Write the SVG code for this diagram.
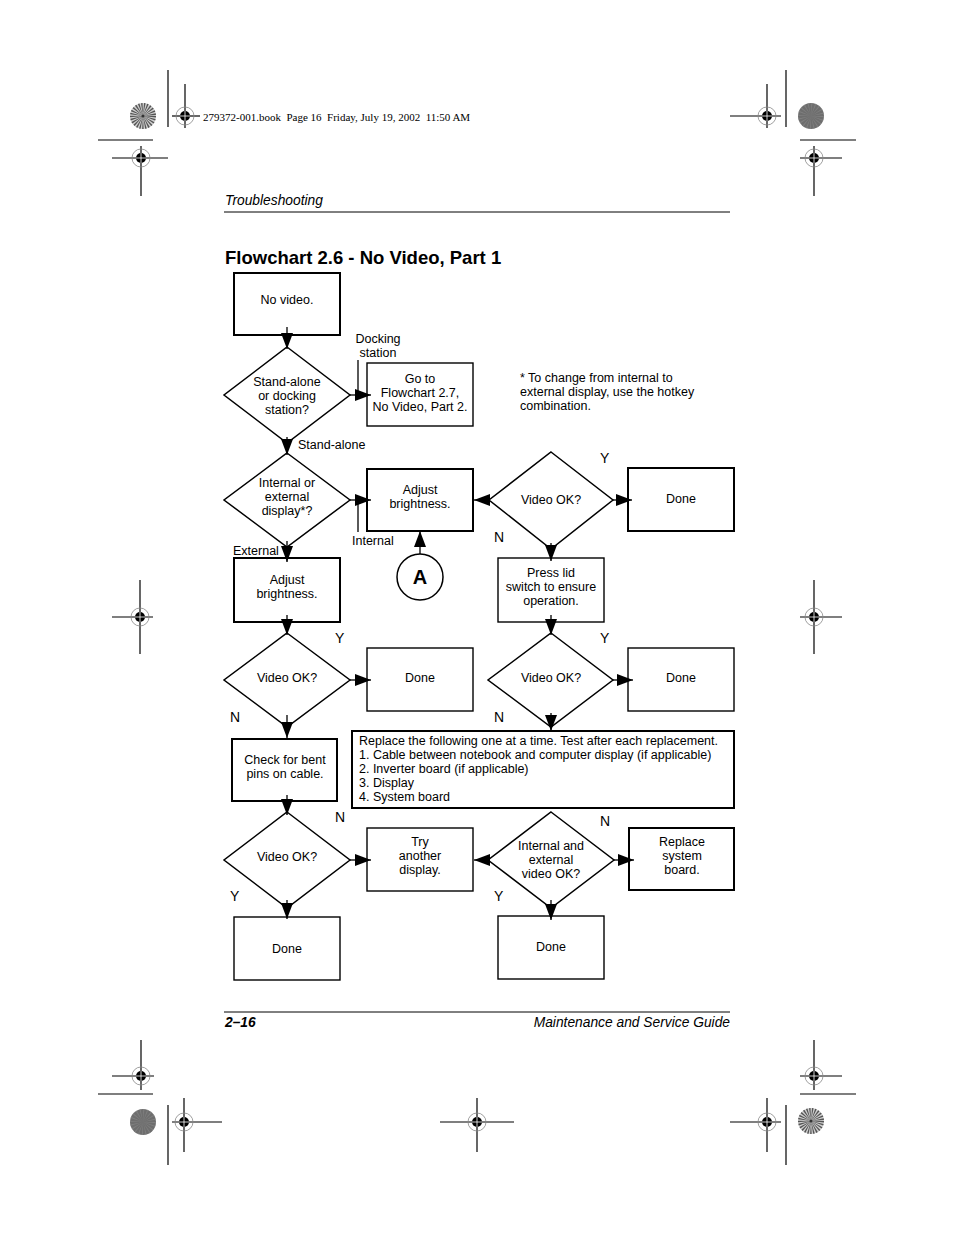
<svg xmlns="http://www.w3.org/2000/svg" xmlns:xlink="http://www.w3.org/1999/xlink" width="954" height="1235" viewBox="0 0 954 1235">
<style>
  .t { font-family: "Liberation Sans", Arial, sans-serif; font-size: 12.5px; fill: #000; }
  .c { text-anchor: middle; }
  .yn { font-family: "Liberation Sans", Arial, sans-serif; font-size: 14px; fill: #000; }
  .box { fill: #fff; stroke: #000; stroke-width: 1.4; }
  .thick { stroke-width: 2; }
  .dia { fill: #fff; stroke: #000; stroke-width: 1.5; }
  .conn { stroke: #000; stroke-width: 1.3; fill: none; }
  .mk { stroke: #000; stroke-width: 1.2; }
  .hdr { font-family: "Liberation Sans", Arial, sans-serif; font-style: italic; font-size: 13.8px; fill: #000; }
</style>
<defs>
  <marker id="ah" markerUnits="userSpaceOnUse" markerWidth="17" markerHeight="12" refX="16" refY="6" orient="auto">
    <path d="M0,0 L16,6 L0,12 z" fill="#000"/>
  </marker>
  <g id="reg">
    <circle r="9" fill="none" stroke="#888" stroke-width="0.8"/>
    <circle r="5" fill="#000"/>
    <line x1="-5" y1="0" x2="5" y2="0" stroke="#fff" stroke-width="0.8"/>
    <line x1="0" y1="-5" x2="0" y2="5" stroke="#fff" stroke-width="0.8"/>
  </g>
  <g id="dotlight">
    <circle r="13" fill="#cfcfcf"/>
    <circle r="6.5" fill="none" stroke="#555" stroke-width="13" stroke-dasharray="0.8 0.8"/>
    <circle r="1.5" fill="#333"/>
  </g>
  <g id="dotdark">
    <circle r="13" fill="#6e6e6e"/>
    <circle r="6.5" fill="none" stroke="#8a8a8a" stroke-width="13" stroke-dasharray="0.6 1.4" opacity="0.6"/>
  </g>
</defs>

<rect width="954" height="1235" fill="#fff"/>

<!-- printer marks -->
<g id="marks">
  <line class="mk" x1="168" y1="70" x2="168" y2="127"/>
  <line class="mk" x1="98" y1="140" x2="153" y2="140"/>
  <line class="mk" x1="172" y1="116" x2="200" y2="116"/>
  <line class="mk" x1="185" y1="84" x2="185" y2="128"/>
  <use xlink:href="#reg" x="185" y="116"/>
  <line class="mk" x1="112" y1="158" x2="168" y2="158"/>
  <line class="mk" x1="141" y1="146" x2="141" y2="196"/>
  <use xlink:href="#reg" x="141" y="158"/>
  <use xlink:href="#dotlight" x="143" y="116"/>

  <line class="mk" x1="786" y1="70" x2="786" y2="127"/>
  <line class="mk" x1="800" y1="140" x2="856" y2="140"/>
  <line class="mk" x1="730" y1="116" x2="781" y2="116"/>
  <line class="mk" x1="767" y1="84" x2="767" y2="128"/>
  <use xlink:href="#reg" x="767" y="116"/>
  <line class="mk" x1="800" y1="158" x2="842" y2="158"/>
  <line class="mk" x1="814" y1="146" x2="814" y2="196"/>
  <use xlink:href="#reg" x="814" y="158"/>
  <use xlink:href="#dotdark" x="811" y="116"/>

  <line class="mk" x1="112" y1="617" x2="153" y2="617"/>
  <line class="mk" x1="140" y1="580" x2="140" y2="654"/>
  <use xlink:href="#reg" x="140" y="617"/>
  <line class="mk" x1="800" y1="617" x2="842" y2="617"/>
  <line class="mk" x1="814" y1="580" x2="814" y2="654"/>
  <use xlink:href="#reg" x="814" y="617"/>

  <line class="mk" x1="112" y1="1076" x2="154" y2="1076"/>
  <line class="mk" x1="141" y1="1040" x2="141" y2="1090"/>
  <use xlink:href="#reg" x="141" y="1076"/>
  <line class="mk" x1="98" y1="1094" x2="153" y2="1094"/>
  <use xlink:href="#dotdark" x="143" y="1122"/>
  <line class="mk" x1="168" y1="1105" x2="168" y2="1165"/>
  <line class="mk" x1="172" y1="1122" x2="222" y2="1122"/>
  <line class="mk" x1="184" y1="1098" x2="184" y2="1152"/>
  <use xlink:href="#reg" x="184" y="1122"/>
  <line class="mk" x1="440" y1="1122" x2="514" y2="1122"/>
  <line class="mk" x1="477" y1="1098" x2="477" y2="1152"/>
  <use xlink:href="#reg" x="477" y="1122"/>
  <line class="mk" x1="730" y1="1122" x2="781" y2="1122"/>
  <line class="mk" x1="767" y1="1098" x2="767" y2="1152"/>
  <use xlink:href="#reg" x="767" y="1122"/>
  <line class="mk" x1="786" y1="1105" x2="786" y2="1165"/>
  <use xlink:href="#dotlight" x="811" y="1121"/>
  <line class="mk" x1="800" y1="1076" x2="842" y2="1076"/>
  <line class="mk" x1="814" y1="1040" x2="814" y2="1090"/>
  <use xlink:href="#reg" x="814" y="1076"/>
  <line class="mk" x1="800" y1="1094" x2="856" y2="1094"/>

  <text x="203" y="121" font-family="'Liberation Serif', 'Times New Roman', serif" font-size="11" fill="#000" style="white-space:pre">279372-001.book  Page 16  Friday, July 19, 2002  11:50 AM</text>
</g>

<!-- page header / footer -->
<g id="page">
  <text class="hdr" x="225" y="205">Troubleshooting</text>
  <line x1="224" y1="212" x2="730" y2="212" stroke="#000" stroke-width="1"/>
  <text x="225" y="264" font-family="'Liberation Sans', Arial, sans-serif" font-weight="bold" font-size="18.5" fill="#000">Flowchart 2.6 - No Video, Part 1</text>
  <line x1="224" y1="1012" x2="730" y2="1012" stroke="#000" stroke-width="1"/>
  <text x="225" y="1027" font-family="'Liberation Sans', Arial, sans-serif" font-weight="bold" font-style="italic" font-size="13.8" fill="#000">2–16</text>
  <text class="hdr" x="730" y="1027" text-anchor="end">Maintenance and Service Guide</text>
</g>

<!-- nodes -->
<g id="n-novideo">
  <rect class="box thick" x="234" y="273" width="106" height="62"/>
  <text class="t c" x="287" y="304">No video.</text>
</g>
<g id="n-standalone">
  <polygon class="dia" points="287,347 350,395 287,443 224,395"/>
  <text class="t c" x="287" y="386">Stand-alone</text>
  <text class="t c" x="287" y="400">or docking</text>
  <text class="t c" x="287" y="414">station?</text>
</g>
<g id="n-goto">
  <rect class="box" x="367" y="363" width="106" height="63"/>
  <text class="t c" x="420" y="383">Go to</text>
  <text class="t c" x="420" y="397">Flowchart 2.7,</text>
  <text class="t c" x="420" y="411">No Video, Part 2.</text>
</g>
<g id="n-note">
  <text class="t" x="520" y="382">* To change from internal to</text>
  <text class="t" x="520" y="396">external display, use the hotkey</text>
  <text class="t" x="520" y="410">combination.</text>
</g>
<g id="n-intext">
  <polygon class="dia" points="287,453 350,500 287,547 224,500"/>
  <text class="t c" x="287" y="487">Internal or</text>
  <text class="t c" x="287" y="501">external</text>
  <text class="t c" x="287" y="515">display*?</text>
</g>
<g id="n-adjust1">
  <rect class="box thick" x="367" y="469" width="106" height="62"/>
  <text class="t c" x="420" y="494">Adjust</text>
  <text class="t c" x="420" y="508">brightness.</text>
</g>
<g id="n-videook1">
  <polygon class="dia" points="551,452 613,500 551,549 489,500"/>
  <text class="t c" x="551" y="504">Video OK?</text>
</g>
<g id="n-done1">
  <rect class="box thick" x="628" y="468" width="106" height="63"/>
  <text class="t c" x="681" y="503">Done</text>
</g>
<g id="n-a">
  <circle cx="420" cy="577" r="23" fill="#fff" stroke="#000" stroke-width="1.5"/>
  <text x="420" y="584" text-anchor="middle" font-family="'Liberation Sans', Arial, sans-serif" font-weight="bold" font-size="20" fill="#000">A</text>
</g>
<g id="n-adjust2">
  <rect class="box thick" x="234" y="558" width="106" height="64"/>
  <text class="t c" x="287" y="584">Adjust</text>
  <text class="t c" x="287" y="598">brightness.</text>
</g>
<g id="n-presslid">
  <rect class="box" x="498" y="558" width="106" height="64"/>
  <text class="t c" x="551" y="577">Press lid</text>
  <text class="t c" x="551" y="591">switch to ensure</text>
  <text class="t c" x="551" y="605">operation.</text>
</g>
<g id="n-videook2">
  <polygon class="dia" points="287,633 350,680 287,727 224,680"/>
  <text class="t c" x="287" y="682">Video OK?</text>
</g>
<g id="n-done2">
  <rect class="box" x="367" y="648" width="106" height="63"/>
  <text class="t c" x="420" y="682">Done</text>
</g>
<g id="n-videook3">
  <polygon class="dia" points="551,633 613,680 551,727 488,680"/>
  <text class="t c" x="551" y="682">Video OK?</text>
</g>
<g id="n-done3">
  <rect class="box" x="628" y="648" width="106" height="63"/>
  <text class="t c" x="681" y="682">Done</text>
</g>
<g id="n-replace">
  <rect class="box thick" x="352" y="731" width="382" height="77"/>
  <text class="t" x="359" y="745">Replace the following one at a time. Test after each replacement.</text>
  <text class="t" x="359" y="759">1. Cable between notebook and computer display (if applicable)</text>
  <text class="t" x="359" y="773">2. Inverter board (if applicable)</text>
  <text class="t" x="359" y="787">3. Display</text>
  <text class="t" x="359" y="801">4. System board</text>
</g>
<g id="n-check">
  <rect class="box thick" x="232" y="739" width="105" height="62"/>
  <text class="t c" x="285" y="764">Check for bent</text>
  <text class="t c" x="285" y="778">pins on cable.</text>
</g>
<g id="n-videook4">
  <polygon class="dia" points="287,812 350,860 287,908 224,860"/>
  <text class="t c" x="287" y="861">Video OK?</text>
</g>
<g id="n-try">
  <rect class="box" x="367" y="828" width="106" height="63"/>
  <text class="t c" x="420" y="846">Try</text>
  <text class="t c" x="420" y="860">another</text>
  <text class="t c" x="420" y="874">display.</text>
</g>
<g id="n-intextok">
  <polygon class="dia" points="551,812 614,860 551,908 488,860"/>
  <text class="t c" x="551" y="850">Internal and</text>
  <text class="t c" x="551" y="864">external</text>
  <text class="t c" x="551" y="878">video OK?</text>
</g>
<g id="n-replsys">
  <rect class="box thick" x="629" y="828" width="105" height="62"/>
  <text class="t c" x="682" y="846">Replace</text>
  <text class="t c" x="682" y="860">system</text>
  <text class="t c" x="682" y="874">board.</text>
</g>
<g id="n-done4">
  <rect class="box" x="234" y="917" width="106" height="63"/>
  <text class="t c" x="287" y="953">Done</text>
</g>
<g id="n-done5">
  <rect class="box" x="498" y="916" width="106" height="63"/>
  <text class="t c" x="551" y="951">Done</text>
</g>

<!-- connectors -->
<g id="connectors">
  <line class="conn" x1="287" y1="327" x2="287" y2="349" marker-end="url(#ah)"/>
  <line class="conn" x1="350" y1="395" x2="371" y2="395" marker-end="url(#ah)"/>
  <line class="conn" x1="287" y1="437" x2="287" y2="455" marker-end="url(#ah)"/>
  <line class="conn" x1="350" y1="500" x2="371" y2="500" marker-end="url(#ah)"/>
  <line class="conn" x1="287" y1="541" x2="287" y2="562" marker-end="url(#ah)"/>
  <line class="conn" x1="420" y1="554" x2="420" y2="531" marker-end="url(#ah)"/>
  <line class="conn" x1="490" y1="500" x2="474" y2="500" marker-end="url(#ah)"/>
  <line class="conn" x1="612" y1="500" x2="632" y2="500" marker-end="url(#ah)"/>
  <line class="conn" x1="551" y1="543" x2="551" y2="561" marker-end="url(#ah)"/>
  <line class="conn" x1="287" y1="615" x2="287" y2="635" marker-end="url(#ah)"/>
  <line class="conn" x1="350" y1="680" x2="371" y2="680" marker-end="url(#ah)"/>
  <line class="conn" x1="287" y1="715" x2="287" y2="738" marker-end="url(#ah)"/>
  <line class="conn" x1="551" y1="615" x2="551" y2="635" marker-end="url(#ah)"/>
  <line class="conn" x1="613" y1="680" x2="633" y2="680" marker-end="url(#ah)"/>
  <line class="conn" x1="551" y1="713" x2="551" y2="731" marker-end="url(#ah)"/>
  <line class="conn" x1="287" y1="795" x2="287" y2="815" marker-end="url(#ah)"/>
  <line class="conn" x1="350" y1="860" x2="371" y2="860" marker-end="url(#ah)"/>
  <line class="conn" x1="287" y1="900" x2="287" y2="919" marker-end="url(#ah)"/>
  <line class="conn" x1="490" y1="860" x2="474" y2="860" marker-end="url(#ah)"/>
  <line class="conn" x1="614" y1="860" x2="634" y2="860" marker-end="url(#ah)"/>
  <line class="conn" x1="551" y1="900" x2="551" y2="920" marker-end="url(#ah)"/>
  <line class="conn" x1="358" y1="360" x2="358" y2="395"/>
  <line class="conn" x1="358" y1="500" x2="358" y2="532"/>
  <text class="t c" x="378" y="343">Docking</text>
  <text class="t c" x="378" y="357">station</text>
  <text class="t" x="298" y="449">Stand-alone</text>
  <text class="t" x="352" y="545">Internal</text>
  <text class="t" x="233" y="555">External</text>
  <text class="yn" x="600" y="463">Y</text>
  <text class="yn" x="494" y="542">N</text>
  <text class="yn" x="335" y="643">Y</text>
  <text class="yn" x="230" y="722">N</text>
  <text class="yn" x="600" y="643">Y</text>
  <text class="yn" x="494" y="722">N</text>
  <text class="yn" x="335" y="822">N</text>
  <text class="yn" x="230" y="901">Y</text>
  <text class="yn" x="600" y="826">N</text>
  <text class="yn" x="494" y="901">Y</text>
</g>
</svg>
